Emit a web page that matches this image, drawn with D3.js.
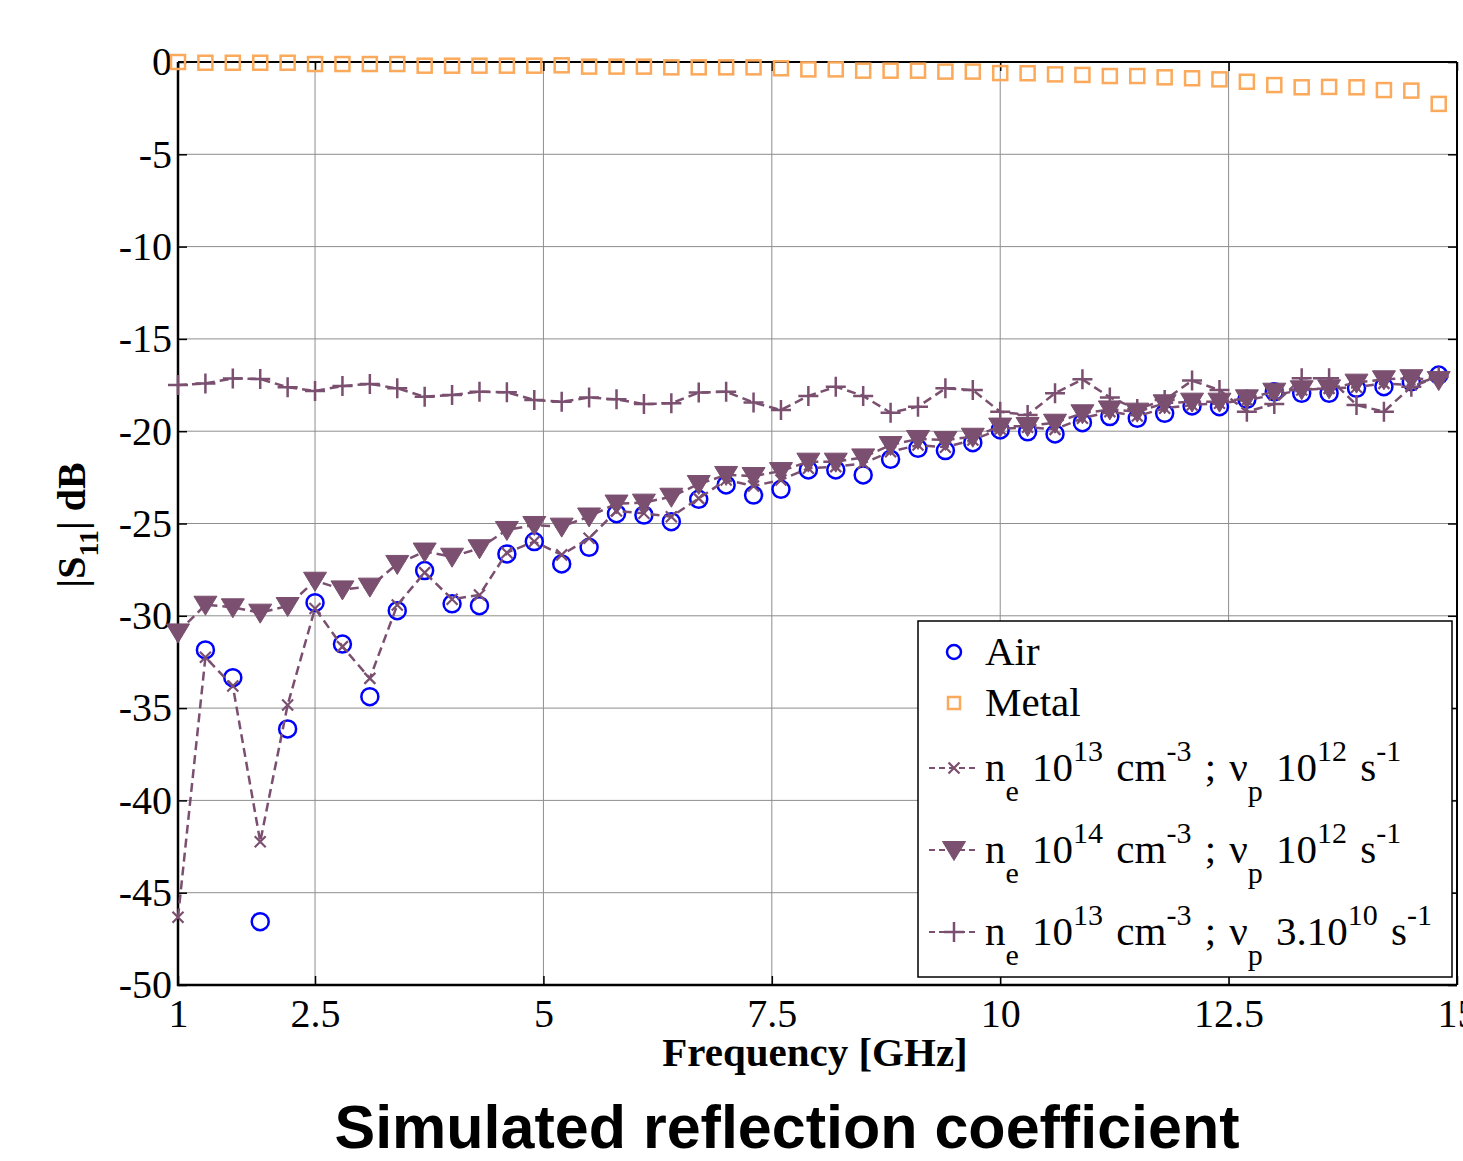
<!DOCTYPE html>
<html>
<head>
<meta charset="utf-8">
<script src="https://d3js.org/d3.v7.min.js"></script>
<style>
body {margin:0; background:#fff;}
svg text {font-family:"Liberation Serif","Times New Roman",serif; white-space:pre;}
</style>
</head>
<body>
<svg id="chart" width="1463" height="1161"></svg>
<script>
// data (frequency in GHz, |S11| in dB)
var freq = [1.0,1.3,1.6,1.9,2.2,2.5,2.8,3.1,3.4,3.7,4.0,4.3,4.6,4.9,5.2,5.5,5.8,6.1,6.4,6.7,7.0,7.3,7.6,7.9,8.2,8.5,8.8,9.1,9.4,9.7,10.0,10.3,10.6,10.9,11.2,11.5,11.8,12.1,12.4,12.7,13.0,13.3,13.6,13.9,14.2,14.5,14.8];
var air = [null,-31.85,-33.35,-46.57,-36.13,-29.29,-31.53,-34.38,-29.72,-27.55,-29.35,-29.45,-26.65,-25.98,-27.19,-26.29,-24.47,-24.54,-24.9,-23.69,-22.91,-23.46,-23.15,-22.1,-22.1,-22.37,-21.52,-20.93,-21.05,-20.62,-19.93,-20.03,-20.15,-19.54,-19.21,-19.3,-19.03,-18.63,-18.67,-18.27,-17.86,-17.95,-17.95,-17.68,-17.59,-17.32,-16.96];
var metal = [0,-0.04,-0.04,-0.04,-0.04,-0.11,-0.11,-0.11,-0.11,-0.2,-0.2,-0.2,-0.2,-0.2,-0.18,-0.25,-0.25,-0.25,-0.29,-0.29,-0.29,-0.29,-0.34,-0.4,-0.4,-0.47,-0.47,-0.47,-0.52,-0.52,-0.6,-0.61,-0.67,-0.7,-0.76,-0.76,-0.83,-0.88,-0.94,-1.07,-1.25,-1.37,-1.35,-1.37,-1.52,-1.55,-2.27];
var ne13nu12 = [-46.33,-32.25,-33.8,-42.24,-34.83,-29.6,-31.67,-33.39,-29.42,-27.66,-29.1,-28.87,-26.58,-25.98,-26.7,-25.8,-24.32,-24.45,-24.63,-23.64,-22.64,-22.97,-22.64,-22.01,-21.92,-21.74,-21.11,-20.75,-20.87,-20.48,-19.88,-19.79,-19.9,-19.3,-18.94,-19.18,-18.76,-18.58,-18.49,-18.31,-18.04,-17.77,-17.68,-17.62,-17.41,-17.5,-17.05];
var ne14nu12 = [-30.9,-29.4,-29.54,-29.83,-29.47,-28.1,-28.57,-28.42,-27.19,-26.52,-26.8,-26.34,-25.35,-25.08,-25.17,-24.62,-23.92,-23.87,-23.55,-22.86,-22.37,-22.43,-22.16,-21.65,-21.65,-21.42,-20.75,-20.42,-20.48,-20.3,-19.75,-19.72,-19.54,-19.03,-18.82,-18.94,-18.49,-18.4,-18.4,-18.22,-17.86,-17.73,-17.68,-17.37,-17.19,-17.13,-17.23];
var ne13nu3e10 = [-17.5,-17.41,-17.14,-17.17,-17.62,-17.82,-17.55,-17.44,-17.68,-18.13,-18.04,-17.86,-17.89,-18.31,-18.4,-18.18,-18.27,-18.53,-18.49,-17.91,-17.86,-18.45,-18.85,-18.09,-17.59,-18.09,-19.0,-18.67,-17.68,-17.77,-18.95,-19.12,-17.94,-17.19,-18.17,-18.8,-18.31,-17.26,-17.77,-18.94,-18.53,-17.13,-17.13,-18.58,-18.94,-17.59,-17.05];

var xTicks = [1, 2.5, 5, 7.5, 10, 12.5, 15];
var yTicks = [0, -5, -10, -15, -20, -25, -30, -35, -40, -45, -50];

// legend text pieces
var legendAir = [{t:"Air"}];
var legendMetal = [{t:"Metal"}];
var legend1 = [{t:"n"},{t:"e",s:1},{t:" 10"},{t:"13",s:-1},{t:" cm"},{t:"-3",s:-1},{t:" ; \u03bd"},{t:"p",s:1},{t:" 10"},{t:"12",s:-1},{t:" s"},{t:"-1",s:-1}];
var legend2 = [{t:"n"},{t:"e",s:1},{t:" 10"},{t:"14",s:-1},{t:" cm"},{t:"-3",s:-1},{t:" ; \u03bd"},{t:"p",s:1},{t:" 10"},{t:"12",s:-1},{t:" s"},{t:"-1",s:-1}];
var legend3 = [{t:"n"},{t:"e",s:1},{t:" 10"},{t:"13",s:-1},{t:" cm"},{t:"-3",s:-1},{t:" ; \u03bd"},{t:"p",s:1},{t:" 3.10"},{t:"10",s:-1},{t:" s"},{t:"-1",s:-1}];

var purple = "#7a4f6f";
var blue = "#0000ff";
var orange = "#fba95b";

//layout
var pLeft = 178, pRight = 1457, pTop = 62, pBottom = 985;
var svg = d3.select("#chart");

//scales
var x = d3.scaleLinear().domain([1, 15]).range([pLeft, pRight]);
var y = d3.scaleLinear().domain([-50, 0]).range([pBottom, pTop]);

//grid
var grid = svg.append("g").attr("stroke", "#8e8e8e").attr("stroke-width", 1);
xTicks.forEach(function(v) {
    grid.append("line").attr("x1", x(v)).attr("x2", x(v)).attr("y1", pTop).attr("y2", pBottom);
});
yTicks.forEach(function(v) {
    grid.append("line").attr("x1", pLeft).attr("x2", pRight).attr("y1", y(v)).attr("y2", y(v));
});

//axes
svg.append("g")
    .attr("transform", "translate(" + pLeft + ",0)")
    .call(d3.axisLeft(y).tickValues(yTicks).tickSize(-9).tickPadding(6).tickFormat(function(d) { return String(d); }));
svg.append("g")
    .attr("transform", "translate(0," + pBottom + ")")
    .call(d3.axisBottom(x).tickValues(xTicks).tickSize(-9).tickPadding(14).tickFormat(function(d) { return String(d); }));
svg.append("g").attr("transform", "translate(" + pRight + ",0)")
    .call(d3.axisRight(y).tickValues(yTicks).tickSize(-9).tickFormat(""));
svg.append("g").attr("transform", "translate(0," + pTop + ")")
    .call(d3.axisTop(x).tickValues(xTicks).tickSize(-9).tickFormat(""));
svg.selectAll(".domain").remove();
svg.selectAll(".tick line").attr("stroke", "#000").attr("stroke-width", 1.5);
svg.selectAll(".tick text").attr("fill", "#000").style("font-size", "40px")
    .style("font-family", "'Liberation Serif','Times New Roman',serif");

// frame
svg.append("line").attr("x1", pLeft).attr("x2", pRight).attr("y1", pTop).attr("y2", pTop).attr("stroke", "#000").attr("stroke-width", 2);
svg.append("line").attr("x1", pRight).attr("x2", pRight).attr("y1", pTop).attr("y2", pBottom).attr("stroke", "#000").attr("stroke-width", 2);
svg.append("line").attr("x1", pLeft).attr("x2", pLeft).attr("y1", pTop).attr("y2", pBottom + 1).attr("stroke", "#000").attr("stroke-width", 2.5);
svg.append("line").attr("x1", pLeft - 1).attr("x2", pRight).attr("y1", pBottom).attr("y2", pBottom).attr("stroke", "#000").attr("stroke-width", 2.5);

//markers
function drawMarker(g, type, cx, cy) {
    if (type == "circle") {
        g.append("circle").attr("cx", cx).attr("cy", cy).attr("r", 8.5)
            .attr("fill", "none").attr("stroke", blue).attr("stroke-width", 2.5);
    } else if (type == "square") {
        g.append("rect").attr("x", cx - 7).attr("y", cy - 7).attr("width", 14).attr("height", 14)
            .attr("fill", "none").attr("stroke", orange).attr("stroke-width", 2.5);
    } else if (type == "x") {
        g.append("path").attr("d", "M" + (cx-5.5) + "," + (cy-5.5) + "L" + (cx+5.5) + "," + (cy+5.5) +
            "M" + (cx-5.5) + "," + (cy+5.5) + "L" + (cx+5.5) + "," + (cy-5.5))
            .attr("stroke", purple).attr("stroke-width", 2.2).attr("fill", "none");
    } else if (type == "tri") {
        g.append("path").attr("d", "M" + (cx-11.5) + "," + (cy-8.5) + "L" + (cx+11.5) + "," + (cy-8.5) + "L" + cx + "," + (cy+10.5) + "Z")
            .attr("fill", purple).attr("stroke", purple).attr("stroke-width", 1);
    } else if (type == "plus") {
        g.append("path").attr("d", "M" + (cx-10) + "," + cy + "L" + (cx+10) + "," + cy +
            "M" + cx + "," + (cy-10) + "L" + cx + "," + (cy+10))
            .attr("stroke", purple).attr("stroke-width", 2.5).attr("fill", "none");
    }
}

var line = d3.line().defined(function(d) { return d[1] != null; })
    .x(function(d) { return x(d[0]); }).y(function(d) { return y(d[1]); });

function drawSeries(values, marker, withLine) {
    var pts = freq.map(function(f, i) { return [f, values[i]]; });
    var g = svg.append("g");
    if (withLine) {
        g.append("path").datum(pts).attr("d", line)
            .attr("fill", "none").attr("stroke", purple).attr("stroke-width", 2.5).attr("stroke-dasharray", "9,5");
    }
    pts.filter(function(d) { return d[1] != null; }).forEach(function(d) {
        drawMarker(g, marker, x(d[0]), y(d[1]));
    });
}

drawSeries(air, "circle", false);
drawSeries(metal, "square", false);
drawSeries(ne13nu12, "x", true);
drawSeries(ne14nu12, "tri", true);
drawSeries(ne13nu3e10, "plus", true);

//rich text helper for sub/superscripts
function richText(t, parts, size, small, shift) {
    var cur = 0;
    parts.forEach(function(p) {
        var target = p.s ? p.s * shift : 0;
        t.append("tspan").attr("dy", target - cur)
            .style("font-size", (p.s ? small : size) + "px").text(p.t);
        cur = target;
    });
}

//legend
var lg = svg.append("g");
lg.append("rect").attr("x", 918).attr("y", 621).attr("width", 534).attr("height", 356)
    .attr("fill", "#fff").attr("stroke", "#000").attr("stroke-width", 1.5);
var rows = [
    {parts: legendAir, marker: "circle", line: false, cy: 652},
    {parts: legendMetal, marker: "square", line: false, cy: 703},
    {parts: legend1, marker: "x", line: true, cy: 768},
    {parts: legend2, marker: "tri", line: true, cy: 850},
    {parts: legend3, marker: "plus", line: true, cy: 932}
];
rows.forEach(function(r) {
    if (r.line) {
        lg.append("line").attr("x1", 929).attr("x2", 977).attr("y1", r.cy).attr("y2", r.cy)
            .attr("stroke", purple).attr("stroke-width", 2).attr("stroke-dasharray", "6,4");
    }
    var m = lg.append("g");
    if (r.marker == "circle") {
        m.append("circle").attr("cx", 954).attr("cy", r.cy).attr("r", 7)
            .attr("fill", "none").attr("stroke", blue).attr("stroke-width", 2.5);
    } else if (r.marker == "square") {
        m.append("rect").attr("x", 948).attr("y", r.cy - 6).attr("width", 12).attr("height", 12)
            .attr("fill", "none").attr("stroke", orange).attr("stroke-width", 2.5);
    } else {
        drawMarker(m, r.marker, 954, r.cy);
    }
    var t = lg.append("text").attr("x", 985).attr("y", r.cy + 13).attr("fill", "#000")
        .style("word-spacing", "3px");
    richText(t, r.parts, 41, 30, 20);
});

//axis labels
svg.append("text").attr("x", 815).attr("y", 1066).attr("text-anchor", "middle")
    .style("font-size", "41px").style("font-weight", "bold").text("Frequency [GHz]");

var yl = svg.append("text").attr("transform", "translate(85,525) rotate(-90)")
    .attr("text-anchor", "middle").style("font-weight", "bold");
richText(yl, [{t:"|S"}, {t:"11", s:1}, {t:"| dB"}], 40, 28, 13);

//title
svg.append("text").attr("x", 787).attr("y", 1148).attr("text-anchor", "middle")
    .style("font-family", "'Liberation Sans',Arial,sans-serif").style("font-size", "61px")
    .style("font-weight", "bold").text("Simulated reflection coefficient");
</script>
</body>
</html>
